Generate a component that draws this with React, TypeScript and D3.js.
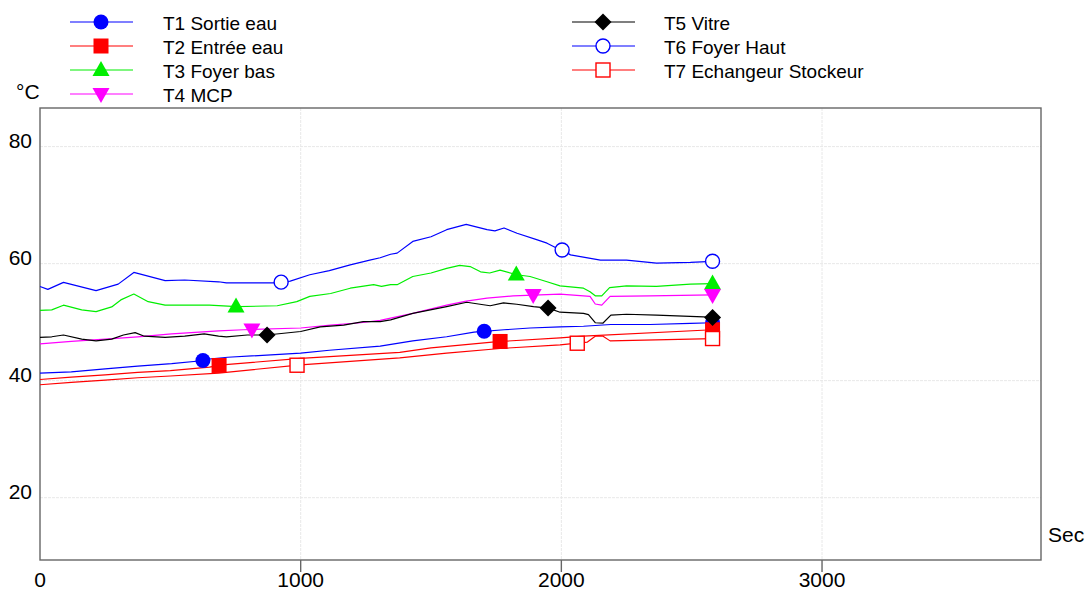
import React from "react";
import * as d3 from "d3";

// ---- Data (time in s, temperature in °C) ----
const T1_TIME = [0, 120, 250, 375, 505, 620, 650, 720, 1000, 1110, 1305, 1430, 1560, 1665, 1780, 1880, 1995, 2085, 2190, 2340, 2495, 2580];
const T1_VAL = [41.3, 41.5, 42.0, 42.5, 42.9, 43.4, 43.7, 44.0, 44.7, 45.2, 45.9, 46.8, 47.5, 48.3, 48.7, 49.0, 49.2, 49.3, 49.6, 49.6, 49.8, 49.9];

const T2_TIME = [0, 120, 250, 375, 500, 650, 700, 1000, 1380, 1500, 1765, 1995, 2085, 2580];
const T2_VAL = [40.2, 40.6, 41.0, 41.4, 41.7, 42.3, 42.7, 43.8, 44.85, 45.6, 46.7, 47.3, 47.6, 48.7];

const T3_TIME = [0, 45, 90, 160, 215, 275, 310, 360, 415, 480, 555, 650, 755, 910, 985, 1035, 1115, 1190, 1280, 1310, 1345, 1370, 1430, 1500, 1560, 1610, 1650, 1690, 1725, 1765, 1829, 1880, 1945, 1995, 2085, 2110, 2130, 2155, 2185, 2250, 2365, 2495, 2580];
const T3_VAL = [52.0, 52.1, 52.9, 52.1, 51.8, 52.6, 53.8, 54.8, 53.5, 52.9, 52.9, 52.9, 52.65, 52.8, 53.5, 54.4, 54.9, 55.8, 56.4, 56.1, 56.4, 56.4, 57.8, 58.4, 59.2, 59.7, 59.5, 58.6, 58.4, 58.9, 58.1, 57.8, 56.9, 56.2, 55.8, 55.2, 54.5, 54.5, 55.9, 56.2, 56.1, 56.5, 56.6];

const T4_TIME = [0, 120, 250, 375, 505, 685, 780, 1000, 1115, 1230, 1305, 1345, 1430, 1560, 1635, 1715, 1815, 1995, 2085, 2110, 2130, 2155, 2187, 2340, 2580];
const T4_VAL = [46.3, 46.7, 47.1, 47.5, 48.0, 48.5, 48.7, 49.0, 49.5, 49.9, 50.3, 50.7, 51.5, 52.9, 53.6, 54.1, 54.5, 54.8, 54.5, 54.4, 53.1, 52.9, 54.4, 54.5, 54.65];

const T5_TIME = [0, 45, 90, 160, 215, 275, 320, 365, 400, 480, 555, 630, 685, 715, 795, 870, 1000, 1075, 1165, 1240, 1305, 1345, 1430, 1560, 1637, 1688, 1727, 1778, 1829, 1893, 1950, 1995, 2085, 2104, 2130, 2160, 2190, 2250, 2365, 2545, 2580];
const T5_VAL = [47.4, 47.5, 47.8, 47.1, 46.8, 47.1, 47.8, 48.2, 47.6, 47.4, 47.6, 48.0, 47.6, 47.5, 47.8, 47.8, 48.4, 49.2, 49.5, 50.1, 50.1, 50.4, 51.5, 52.65, 53.4, 53.06, 52.8, 53.3, 53.06, 52.65, 52.4, 51.7, 51.5, 51.3, 49.9, 49.85, 51.2, 51.35, 51.2, 50.9, 50.8];

const T6_TIME = [0, 30, 90, 215, 300, 360, 480, 555, 685, 715, 895, 960, 1035, 1110, 1190, 1265, 1305, 1345, 1370, 1430, 1500, 1560, 1635, 1715, 1745, 1780, 1830, 1905, 1945, 1985, 2005, 2035, 2150, 2250, 2365, 2495, 2580];
const T6_VAL = [56.1, 55.6, 56.8, 55.4, 56.5, 58.5, 57.1, 57.2, 56.9, 56.7, 56.7, 57.0, 58.1, 58.8, 59.8, 60.6, 61.0, 61.6, 61.8, 63.8, 64.6, 65.8, 66.7, 65.8, 65.6, 66.1, 65.2, 64.1, 63.5, 62.6, 62.3, 61.5, 60.6, 60.6, 60.1, 60.2, 60.4];

const T7_TIME = [0, 120, 250, 375, 500, 685, 1000, 1380, 1560, 1765, 1995, 2061, 2100, 2130, 2160, 2187, 2580];
const T7_VAL = [39.3, 39.7, 40.1, 40.5, 40.8, 41.3, 42.7, 43.9, 44.7, 45.5, 46.1, 46.4, 46.6, 47.6, 47.6, 46.8, 47.2];

// marker times (s) along each series
const T1_MARK = [625, 1704, 2580];
const T2_MARK = [687, 1765, 2580];
const T3_MARK = [752, 1827, 2580];
const T4_MARK = [813, 1892, 2580];
const T5_MARK = [871, 1949, 2580];
const T6_MARK = [925, 2003, 2580];
const T7_MARK = [986, 2061, 2580];

const LABELS = ["T1 Sortie eau", "T2 Entrée eau", "T3 Foyer bas", "T4 MCP", "T5 Vitre", "T6 Foyer Haut", "T7 Echangeur Stockeur"];
const X_TICKS = [0, 1000, 2000, 3000];
const Y_TICKS = [20, 40, 60, 80];
const X_DOMAIN = [0, 3840];
const Y_DOMAIN = [9.35, 86.6];
const X_TITLE = "Sec";
const Y_TITLE = "°C";

type Shape = "circle" | "square" | "triUp" | "triDown" | "diamond" | "openCircle" | "openSquare";

const SERIES = [
  { name: LABELS[0], time: T1_TIME, val: T1_VAL, marks: T1_MARK, color: "#0000ff", shape: "circle" as Shape },
  { name: LABELS[1], time: T2_TIME, val: T2_VAL, marks: T2_MARK, color: "#ff0000", shape: "square" as Shape },
  { name: LABELS[2], time: T3_TIME, val: T3_VAL, marks: T3_MARK, color: "#00ee00", shape: "triUp" as Shape },
  { name: LABELS[3], time: T4_TIME, val: T4_VAL, marks: T4_MARK, color: "#ff00ff", shape: "triDown" as Shape },
  { name: LABELS[4], time: T5_TIME, val: T5_VAL, marks: T5_MARK, color: "#000000", shape: "diamond" as Shape },
  { name: LABELS[5], time: T6_TIME, val: T6_VAL, marks: T6_MARK, color: "#0000ff", shape: "openCircle" as Shape },
  { name: LABELS[6], time: T7_TIME, val: T7_VAL, marks: T7_MARK, color: "#ff0000", shape: "openSquare" as Shape },
];

const FONT = "'Liberation Sans', Arial, Helvetica, sans-serif";

function interp(time: number[], val: number[], t: number) {
  const i = d3.bisectLeft(time, t);
  if (i <= 0) return val[0];
  if (i >= time.length) return val[val.length - 1];
  const t0 = time[i - 1], t1 = time[i];
  return val[i - 1] + ((val[i] - val[i - 1]) * (t - t0)) / (t1 - t0);
}

function Marker({ shape, color, x, y }: { shape: Shape; color: string; x: number; y: number }) {
  switch (shape) {
    case "circle":
      return <circle cx={x} cy={y} r={7.5} fill={color} />;
    case "square":
      return <rect x={x - 7.5} y={y - 7.5} width={15} height={15} fill={color} />;
    case "triUp":
      return <path d={`M${x},${y - 9}L${x + 8.5},${y + 6}L${x - 8.5},${y + 6}Z`} fill={color} />;
    case "triDown":
      return <path d={`M${x},${y + 9}L${x + 8.5},${y - 6}L${x - 8.5},${y - 6}Z`} fill={color} />;
    case "diamond":
      return <path d={`M${x},${y - 8.5}L${x + 8.5},${y}L${x},${y + 8.5}L${x - 8.5},${y}Z`} fill={color} />;
    case "openCircle":
      return <circle cx={x} cy={y} r={7} fill="#fff" stroke={color} strokeWidth={1.4} />;
    case "openSquare":
      return <rect x={x - 7} y={y - 7} width={14} height={14} fill="#fff" stroke={color} strokeWidth={1.4} />;
  }
  return null;
}

export default function App() {
  const W = 1086, H = 592;
  const left = 40, right = 1041, top = 108, bottom = 560;
  const x = d3.scaleLinear().domain(X_DOMAIN).range([left, right]);
  const y = d3.scaleLinear().domain(Y_DOMAIN).range([bottom, top]);
  const line = d3.line<[number, number]>().x((d) => x(d[0])).y((d) => y(d[1]));

  const legendPos = [
    { lx: 70, mx: 101, tx: 163, row: 0 },
    { lx: 70, mx: 101, tx: 163, row: 1 },
    { lx: 70, mx: 101, tx: 163, row: 2 },
    { lx: 70, mx: 101, tx: 163, row: 3 },
    { lx: 572, mx: 603, tx: 664, row: 0 },
    { lx: 572, mx: 603, tx: 664, row: 1 },
    { lx: 572, mx: 603, tx: 664, row: 2 },
  ];

  return (
    <svg width={W} height={H} style={{ position: "absolute", left: 0, top: 0, background: "#fff" }} fontFamily={FONT}>
      <rect x={0} y={0} width={W} height={H} fill="#fff" />
      {/* grid */}
      {Y_TICKS.map((t) => (
        <line key={"gy" + t} x1={left} x2={right} y1={y(t)} y2={y(t)} stroke="#e8e8e8" strokeWidth={1} strokeDasharray="3,1" />
      ))}
      {X_TICKS.filter((t) => t > 0).map((t) => (
        <line key={"gx" + t} x1={x(t)} x2={x(t)} y1={top} y2={bottom} stroke="#e8e8e8" strokeWidth={1} strokeDasharray="3,1" />
      ))}
      {/* frame */}
      <rect x={left} y={top} width={right - left} height={bottom - top} fill="none" stroke="#666" strokeWidth={1.4} />
      {/* x ticks */}
      {X_TICKS.filter((t) => t > 0).map((t) => (
        <line key={"tx" + t} x1={x(t)} x2={x(t)} y1={bottom} y2={bottom + 12} stroke="#666" strokeWidth={1.4} />
      ))}
      {X_TICKS.map((t) => (
        <text key={"lx" + t} x={x(t)} y={587} fontSize={21} textAnchor="middle" fill="#000">
          {t}
        </text>
      ))}
      {Y_TICKS.map((t) => (
        <text key={"ly" + t} x={32} y={y(t) + 1} fontSize={21} textAnchor="end" fill="#000">
          {t}
        </text>
      ))}
      <text x={16} y={99} fontSize={21} fill="#000">{Y_TITLE}</text>
      <text x={1048} y={542} fontSize={21} fill="#000">{X_TITLE}</text>

      {/* lines */}
      {SERIES.map((s) => (
        <path
          key={"l" + s.name}
          d={line(s.time.map((t, i) => [t, s.val[i]] as [number, number])) || ""}
          fill="none"
          stroke={s.color}
          strokeWidth={1.2}
          strokeLinejoin="round"
        />
      ))}
      {/* markers */}
      {SERIES.map((s) =>
        s.marks.map((t) => (
          <Marker key={"m" + s.name + t} shape={s.shape} color={s.color} x={x(t)} y={y(interp(s.time, s.val, t))} />
        ))
      )}

      {/* legend */}
      {SERIES.map((s, i) => {
        const p = legendPos[i];
        const cy = 22 + p.row * 24;
        return (
          <g key={"lg" + s.name}>
            <line x1={p.lx} x2={p.lx + 63} y1={cy} y2={cy} stroke={s.color} strokeWidth={1.2} />
            <Marker shape={s.shape} color={s.color} x={p.mx} y={cy} />
            <text x={p.tx} y={cy + 7.5} fontSize={19} fill="#000">
              {s.name}
            </text>
          </g>
        );
      })}
    </svg>
  );
}
